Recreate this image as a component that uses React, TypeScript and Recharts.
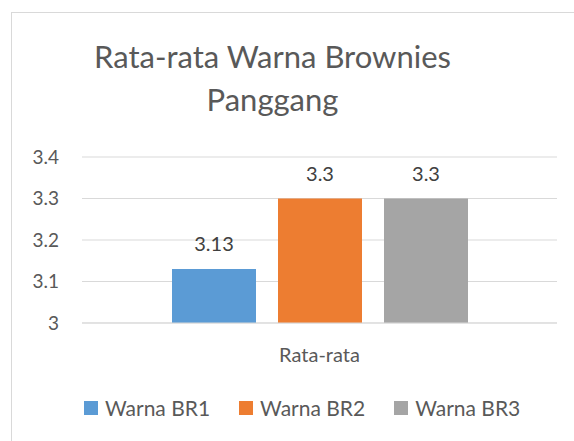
import { BarChart, Bar, XAxis, YAxis, CartesianGrid, LabelList } from 'recharts';

const categories = ['Rata-rata'];
const seriesNames = ['Warna BR1', 'Warna BR2', 'Warna BR3'];
const br1Values = [3.13];
const br2Values = [3.3];
const br3Values = [3.3];
const yTicks = [3, 3.1, 3.2, 3.3, 3.4];

const COLORS = ['#5B9BD5', '#ED7D31', '#A5A5A5'];
const FONT = 'Lato, "Noto Sans", sans-serif';
const TEXT = '#595959';

const data = categories.map((name, i) => ({
  name,
  br1: br1Values[i],
  br2: br2Values[i],
  br3: br3Values[i],
}));

const keys = ['br1', 'br2', 'br3'];

export default function App() {
  return (
    <div style={{ position: 'absolute', left: 0, top: 0, width: 574, height: 441, background: '#fff', overflow: 'hidden', fontFamily: FONT }}>
      <div
        style={{
          position: 'absolute',
          left: 11,
          top: 12,
          right: -5,
          bottom: -5,
          borderTop: '1px solid #D9D9D9',
          borderLeft: '1px solid #D9D9D9',
        }}
      />
      <div
        style={{
          position: 'absolute',
          left: 0,
          top: 35,
          width: 545,
          textAlign: 'center',
          fontSize: 31,
          lineHeight: '43px',
          color: TEXT,
        }}
      >
        Rata-rata Warna Brownies
        <br />
        Panggang
      </div>
      <div style={{ position: 'absolute', left: 0, top: 0 }}>
        <BarChart
          width={574}
          height={441}
          data={data}
          margin={{ top: 157, right: 17, bottom: 78, left: 0 }}
          barSize={84}
          barGap={22}
        >
          <CartesianGrid vertical={false} stroke="#D9D9D9" />
          <XAxis
            dataKey="name"
            height={40}
            tickLine={false}
            tickSize={0}
            tickMargin={25}
            axisLine={{ stroke: '#D9D9D9' }}
            tick={{ fill: TEXT, fontSize: 20, fontFamily: FONT }}
          />
          <YAxis
            width={82}
            domain={[3, 3.4]}
            ticks={yTicks}
            axisLine={false}
            tickLine={false}
            tickSize={0}
            tickMargin={23}
            tick={{ fill: TEXT, fontSize: 19, fontFamily: FONT }}
          />
          {keys.map((k, i) => (
            <Bar key={k} dataKey={k} name={seriesNames[i]} fill={COLORS[i]} isAnimationActive={false}>
              <LabelList
                dataKey={k}
                position="top"
                offset={18}
                fill="#404040"
                fontSize={20}
                fontFamily={FONT}
              />
            </Bar>
          ))}
        </BarChart>
      </div>
      <div style={{ position: 'absolute', left: 84, top: 396, display: 'flex', alignItems: 'center', height: 24 }}>
        {seriesNames.map((n, i) => (
          <div key={n} style={{ display: 'flex', alignItems: 'center', marginRight: 29 }}>
            <span style={{ width: 14, height: 14, background: COLORS[i], marginRight: 7, display: 'inline-block' }} />
            <span style={{ fontSize: 21, color: TEXT, lineHeight: '24px' }}>{n}</span>
          </div>
        ))}
      </div>
    </div>
  );
}
